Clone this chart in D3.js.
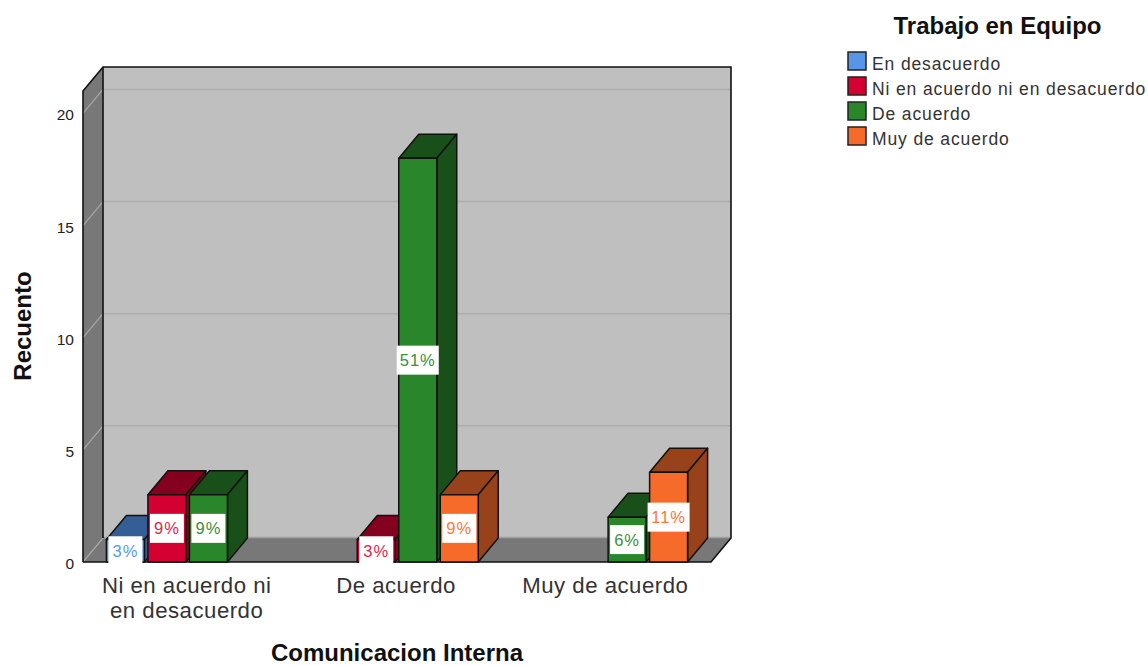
<!DOCTYPE html>
<html><head><meta charset="utf-8">
<script src="https://cdn.jsdelivr.net/npm/d3@7"></script>
<style>html,body{margin:0;padding:0;background:#fff}svg{display:block}text{font-family:"Liberation Sans",Arial,sans-serif}</style>
</head><body><div id="c"></div>
<script>
const categories = ["Ni en acuerdo ni|en desacuerdo", "De acuerdo", "Muy de acuerdo"];
const seriesNames = ["En desacuerdo", "Ni en acuerdo ni en desacuerdo", "De acuerdo", "Muy de acuerdo"];
const enDesacuerdo = [1, 0, 0];
const niEnAcuerdo = [3, 1, 0];
const deAcuerdo = [3, 18, 2];
const muyDeAcuerdo = [0, 3, 4];
const percentLabels = [["3%","",""],["9%","3%",""],["9%","51%","6%"],["","9%","11%"]];
const yTicks = [0, 5, 10, 15, 20];
const frontColors = ["#5597e6", "#d50032", "#2a862a", "#f76b2a"];
const sideColors = ["#335e96", "#85001e", "#195019", "#97421a"];
const labelColors = ["#5a9be8", "#d9274f", "#3a8f3a", "#f77a3c"];

const values = [enDesacuerdo, niEnAcuerdo, deAcuerdo, muyDeAcuerdo];
const W = 1148, H = 666, L = 83, R = 711, B = 562, T = 91, DX = 20, DY = -24;
const svg = d3.select("#c").append("svg").attr("width", W).attr("height", H);
const x0 = d3.scaleBand().domain(categories).range([L, R]).paddingInner(0.2236).paddingOuter(0.1118);
const x1 = d3.scaleBand().domain(d3.range(4)).range([0, x0.bandwidth()]).paddingInner(0.085);
const y = d3.scaleLinear().domain([0, 21]).range([B, T]);
const poly = pts => pts.map(p => p.join(",")).join(" ");

// walls
svg.append("polygon").attr("points", poly([[L+DX,T+DY],[R+DX,T+DY],[R+DX,B+DY],[L+DX,B+DY]])).attr("fill", "#bfbfbf");
svg.append("polygon").attr("points", poly([[L,T],[L+DX,T+DY],[L+DX,B+DY],[L,B]])).attr("fill", "#787878");
svg.append("polygon").attr("points", poly([[L,B],[L+DX,B+DY],[R+DX,B+DY],[R,B]])).attr("fill", "#787878");
svg.append("line").attr("x1", L+DX).attr("x2", R+DX).attr("y1", B+DY-0.5).attr("y2", B+DY-0.5).attr("stroke", "#a0a0a0").attr("stroke-width", 1.5);
// grid
yTicks.filter(t => t > 0).forEach(t => {
  svg.append("line").attr("x1", L+DX).attr("x2", R+DX).attr("y1", y(t)+DY).attr("y2", y(t)+DY).attr("stroke", "#adadad").attr("stroke-width", 1.5);
  svg.append("line").attr("x1", L).attr("x2", L+DX).attr("y1", y(t)).attr("y2", y(t)+DY).attr("stroke", "#a8a8a8").attr("stroke-width", 1.2);
});
svg.append("line").attr("x1", L).attr("x2", L+DX).attr("y1", B).attr("y2", B+DY).attr("stroke", "#a8a8a8").attr("stroke-width", 1.2);
// wall outlines
const edge = "#111";
svg.append("polyline").attr("fill", "none").attr("stroke", edge).attr("stroke-width", 1.6)
  .attr("points", poly([[L,B],[L,T],[L+DX,T+DY],[R+DX,T+DY],[R+DX,B+DY],[R,B],[L,B]]));
svg.append("line").attr("x1", L+DX).attr("x2", L+DX).attr("y1", T+DY).attr("y2", B+DY).attr("stroke", edge).attr("stroke-width", 1.6);

// bars
const bars = svg.append("g").attr("stroke", edge).attr("stroke-width", 1.5).attr("stroke-linejoin", "round");
categories.forEach((c, ci) => {
  values.forEach((vals, si) => {
    const v = vals[ci];
    if (!v) return;
    const a = x0(c) + x1(si), b = a + x1.bandwidth(), top = y(v);
    const g = bars.append("g");
    g.append("polygon").attr("fill", sideColors[si]).attr("points", poly([[a,top],[a+DX,top+DY],[b+DX,top+DY],[b,top]]));
    g.append("polygon").attr("fill", sideColors[si]).attr("points", poly([[b,top],[b+DX,top+DY],[b+DX,B+DY],[b,B]]));
    g.append("rect").attr("fill", frontColors[si]).attr("x", a).attr("y", top).attr("width", b-a).attr("height", B-top);
  });
});
// value labels
categories.forEach((c, ci) => {
  values.forEach((vals, si) => {
    const v = vals[ci];
    if (!v) return;
    const cx = x0(c) + x1(si) + x1.bandwidth()/2, cy = (y(v)+B)/2;
    const label = percentLabels[si][ci];
    const bw = label.length === 3 ? 42 : 34;
    svg.append("rect").attr("x", cx-bw/2).attr("y", cy-14.5).attr("width", bw).attr("height", 29).attr("fill", "#fff");
    svg.append("text").attr("x", cx).attr("y", cy+6).attr("text-anchor", "middle").attr("font-size", 16.5)
      .attr("letter-spacing", 1).attr("fill", labelColors[si]).text(label);
  });
});

// y axis
const yAxis = d3.axisLeft(y).tickValues(yTicks).tickSize(0).tickPadding(9);
const yg = svg.append("g").attr("transform", `translate(${L},1.5)`).call(yAxis);
yg.select(".domain").remove();
yg.selectAll("text").attr("font-size", 15.5).attr("fill", "#222").style("font-family", '"Liberation Sans",Arial,sans-serif');

// category labels
categories.forEach(c => {
  const cx = x0(c) + x0.bandwidth()/2 - 1;
  c.split("|").forEach((s, i) => {
    svg.append("text").attr("x", cx).attr("y", 593 + i*25).attr("text-anchor", "middle")
      .attr("font-size", 22.2).attr("letter-spacing", 0.5).attr("fill", "#333").text(s);
  });
});
// axis titles
svg.append("text").attr("x", 397).attr("y", 660.5).attr("text-anchor", "middle").attr("font-size", 24).attr("font-weight", "bold").attr("fill", "#111").text("Comunicacion Interna");
svg.append("text").attr("transform", "translate(30.5,326) rotate(-90)").attr("text-anchor", "middle").attr("font-size", 24).attr("font-weight", "bold").attr("fill", "#111").text("Recuento");

// legend
svg.append("text").attr("x", 997.5).attr("y", 34).attr("text-anchor", "middle").attr("font-size", 24).attr("font-weight", "bold").attr("fill", "#111").text("Trabajo en Equipo");
seriesNames.forEach((s, i) => {
  svg.append("rect").attr("x", 848).attr("y", 52 + i*25).attr("width", 18).attr("height", 18)
    .attr("fill", frontColors[i]).attr("stroke", "#222").attr("stroke-width", 1.5);
  svg.append("text").attr("x", 872).attr("y", 69.5 + i*25).attr("font-size", 17.5).attr("letter-spacing", 0.87).attr("fill", "#333").text(s);
});
</script></body></html>
